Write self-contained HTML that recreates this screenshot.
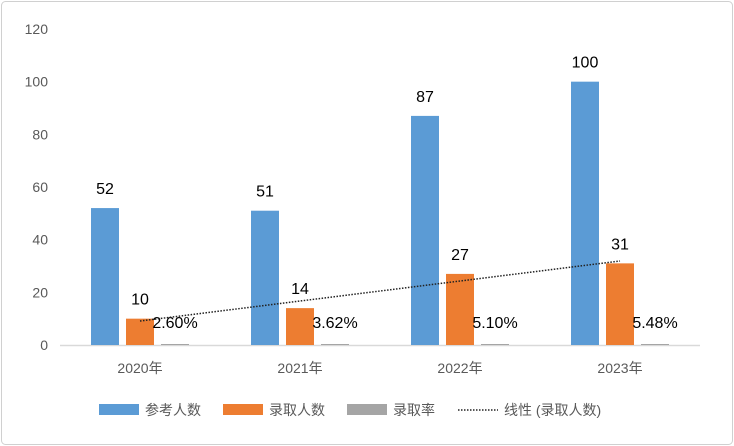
<!DOCTYPE html>
<html><head><meta charset="utf-8">
<style>
html,body{margin:0;padding:0;background:#fff;}
svg{display:block;font-family:"Liberation Sans","Noto Sans CJK SC",sans-serif;}
</style></head>
<body>
<svg id="chart" width="734" height="446" xmlns="http://www.w3.org/2000/svg">
<rect x="1.5" y="1.5" width="731" height="443" rx="4" fill="#fff" stroke="#d0d0d0"/>
<g id="grid"></g><g id="bars"></g><g id="labels"></g>
<g font-size="14" fill="#595959">
<rect x="99" y="404" width="40" height="11" fill="#5b9bd5"/>
<text x="145" y="415">参考人数</text>
<rect x="223" y="404" width="40" height="11" fill="#ed7d31"/>
<text x="269" y="415">录取人数</text>
<rect x="347" y="404" width="40" height="11" fill="#a5a5a5"/>
<text x="393" y="415">录取率</text>
<line x1="458" y1="410" x2="498" y2="410" stroke="#222" stroke-width="1.5" stroke-dasharray="1.5,1.5"/>
<text x="504" y="415">线性 (录取人数)</text>
</g>
</svg>
<script>
const categories=["2020年","2021年","2022年","2023年"];
const candidates=[52,51,87,100];
const admitted=[10,14,27,31];
const rates=[0.026,0.0362,0.051,0.0548];
const rateLabels=["2.60%","3.62%","5.10%","5.48%"];
const yTicks=[0,20,40,60,80,100,120];
const NS="http://www.w3.org/2000/svg";
const x0=60,catW=160,yBase=345,yTop=29,yMax=120;
const y=v=>yBase-(v/yMax)*(yBase-yTop);
const cx=i=>x0+catW*i+catW/2;
function el(tag,attrs,parent,text){const e=document.createElementNS(NS,tag);for(const k in attrs)e.setAttribute(k,attrs[k]);if(text!==undefined)e.textContent=text;document.getElementById(parent).appendChild(e);return e;}
yTicks.forEach(t=>{
 const l=el('text',{x:48,y:y(t)+5,'text-anchor':'end','font-size':14,fill:'#595959'},'grid',t);
 
 
});
const ax=el('line',{x1:x0,y1:yBase+0.5,x2:x0+catW*4,y2:yBase+0.5,stroke:'#d9d9d9','stroke-width':1.5},'grid');


const bw=28;
categories.forEach((c,i)=>{
 const b1=el('rect',{x:cx(i)-49,y:y(candidates[i]),width:bw,height:yBase-y(candidates[i]),fill:'#5b9bd5'},'bars');
 
 
 const b2=el('rect',{x:cx(i)-14,y:y(admitted[i]),width:bw,height:yBase-y(admitted[i]),fill:'#ed7d31'},'bars');
 
 
 const rh=Math.max(1,yBase-y(rates[i]));
 const b3=el('rect',{x:cx(i)+21,y:yBase-rh,width:bw,height:rh,fill:'#a5a5a5'},'bars');
 
 
 const t1=el('text',{x:cx(i)-35,y:y(candidates[i])-14,'text-anchor':'middle','font-size':16,fill:'#000'},'labels',candidates[i]);
 
 
 const t2=el('text',{x:cx(i),y:y(admitted[i])-14,'text-anchor':'middle','font-size':16,fill:'#000'},'labels',admitted[i]);
 
 
 const t3=el('text',{x:cx(i)+35,y:yBase-17,'text-anchor':'middle','font-size':16,fill:'#000'},'labels',rateLabels[i]);
 
 
 const t4=el('text',{x:cx(i),y:373,'text-anchor':'middle','font-size':14,fill:'#595959'},'labels',c);
 
 
});
// linear trend of admitted
const n=admitted.length;const mx=(n-1)/2;const my=admitted.reduce((a,b)=>a+b,0)/n;
let sxy=0,sxx=0;admitted.forEach((v,i)=>{sxy+=(i-mx)*(v-my);sxx+=(i-mx)*(i-mx);});
const slope=sxy/sxx,inter=my-slope*mx;
const tl=el('line',{x1:cx(0),y1:y(inter),x2:cx(n-1),y2:y(inter+slope*(n-1)),stroke:'#222','stroke-width':1.5,'stroke-dasharray':'1.5,1.5'},'labels');


</script>
</body></html>
